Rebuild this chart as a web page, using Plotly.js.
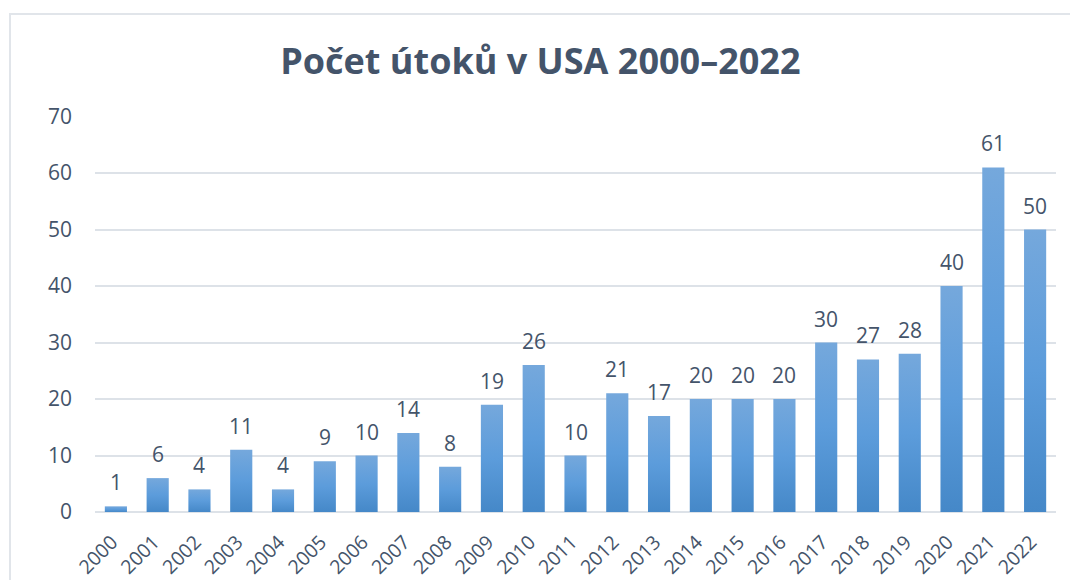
<!DOCTYPE html>
<html>
<head>
<meta charset="utf-8">
<script src="https://cdn.plot.ly/plotly-3.0.1.min.js"></script>
<style>
html,body{margin:0;padding:0;background:#fff;}
#wrap{position:relative;width:1070px;height:580px;overflow:hidden;}
#frame{position:absolute;left:9px;top:13px;width:1100px;height:600px;border-left:2px solid #E1E5EA;border-top:2px solid #E1E5EA;pointer-events:none;}
#chart{position:absolute;left:0;top:0;width:1070px;height:580px;}
</style>
</head>
<body>
<div id="wrap"><div id="chart"></div><div id="frame"></div></div>
<script>
const years = ["2000","2001","2002","2003","2004","2005","2006","2007","2008","2009","2010","2011","2012","2013","2014","2015","2016","2017","2018","2019","2020","2021","2022"];
const attacks = [1,6,4,11,4,9,10,14,8,19,26,10,21,17,20,20,20,30,27,28,40,61,50];
const chartTitle = "Počet útoků v USA 2000–2022";

const textColor = "#44546A";
const fontFam = "'Open Sans', 'Noto Sans', sans-serif";

const annotations = years.map((y, i) => ({
  x: i, y: attacks[i], xref: "x", yref: "y",
  text: String(attacks[i]), showarrow: false,
  yanchor: "bottom", yshift: 8,
  font: {family: fontFam, size: 21, color: textColor}
}));

const trace = {
  type: "bar", x: years, y: attacks,
  marker: {color: "#5B9BD5", line: {width: 0}},
  hoverinfo: "x+y"
};

const layout = {
  width: 1070, height: 580,
  margin: {l: 95, r: 14, t: 116, b: 68},
  paper_bgcolor: "rgba(0,0,0,0)", plot_bgcolor: "rgba(0,0,0,0)",
  bargap: 0.47,
  showlegend: false,
  title: {
    text: "<b>" + chartTitle + "</b>",
    x: 0.505, xanchor: "center", y: 1 - 61/580, yanchor: "middle", yref: "container",
    font: {family: fontFam, size: 36, color: textColor}
  },
  xaxis: {
    type: "category", range: [-0.5, years.length - 0.5], autorange: false,
    tickangle: -45, showgrid: false, zeroline: false,
    showline: false, ticks: "", ticklabelstandoff: 14, ticklabelshift: -4,
    tickfont: {family: fontFam, size: 19.5, color: textColor}
  },
  yaxis: {
    range: [0, 70.1], autorange: false, tickvals: [0,10,20,30,40,50,60,70],
    showgrid: true, gridcolor: "#DDE2E8", gridwidth: 2,
    zeroline: true, zerolinecolor: "#DDE2E8", zerolinewidth: 2,
    showline: false, ticks: "", ticklabelstandoff: 22,
    tickfont: {family: fontFam, size: 21, color: textColor}
  },
  annotations: annotations
};

Plotly.newPlot("chart", [trace], layout, {displayModeBar: false, staticPlot: true}).then(gd => {
  const svg = gd.querySelector(".main-svg");
  const ns = "http://www.w3.org/2000/svg";
  let defs = svg.querySelector("defs");
  if (!defs) { defs = document.createElementNS(ns, "defs"); svg.insertBefore(defs, svg.firstChild); }
  const lg = document.createElementNS(ns, "linearGradient");
  lg.setAttribute("id", "barGrad");
  lg.setAttribute("x1", "0"); lg.setAttribute("y1", "0");
  lg.setAttribute("x2", "0"); lg.setAttribute("y2", "1");
  [["0", "#75A8DC"], ["0.5", "#5C9CDB"], ["1", "#4588C8"]].forEach(([o, c]) => {
    const s = document.createElementNS(ns, "stop");
    s.setAttribute("offset", o); s.setAttribute("stop-color", c);
    lg.appendChild(s);
  });
  defs.appendChild(lg);
  gd.querySelectorAll(".trace.bars .point path").forEach(p => {
    p.style.fill = "url(#barGrad)";
  });
});
</script>
</body>
</html>
